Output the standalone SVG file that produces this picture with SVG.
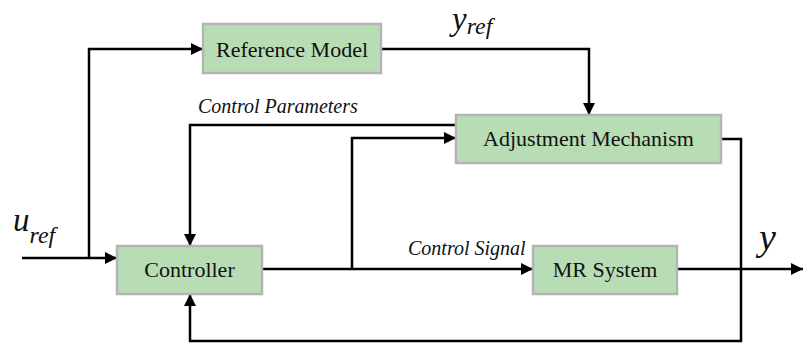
<svg xmlns="http://www.w3.org/2000/svg" width="803" height="345" viewBox="0 0 803 345">
  <defs>
    <marker id="arrow" viewBox="0 0 12 12" refX="12" refY="6" markerWidth="12" markerHeight="12" markerUnits="userSpaceOnUse" orient="auto">
      <path d="M0,0 L12,6 L0,12 Z" fill="#000"/>
    </marker>
  </defs>
  <style>
    .box { fill: #b8ddb4; stroke: #b4b4b4; stroke-width: 2.5; }
    text { font-family: "Liberation Serif", "Times New Roman", serif; fill: #111; }
    .lbl { font-size: 22px; text-anchor: middle; }
    .sig { font-style: italic; font-size: 20px; }
    .var { font-style: italic; }
    .wire { fill: none; stroke: #000; stroke-width: 2.5; }
    .arr { marker-end: url(#arrow); }
  </style>

  <rect width="803" height="345" fill="#fff"/>

  <!-- connectors -->
  <g id="connectors">
    <!-- reference input to controller -->
    <path class="wire arr" d="M22,258 H117"/>
    <!-- branch of reference input up to the reference model -->
    <path class="wire arr" d="M89,258 V49 H203"/>
    <!-- reference model output to adjustment mechanism -->
    <path class="wire arr" d="M381,49 H589 V115"/>
    <!-- control parameters back to controller -->
    <path class="wire arr" d="M456,125 H190 V246"/>
    <!-- controller output to MR system -->
    <path class="wire arr" d="M262,269 H533"/>
    <!-- control signal tap to adjustment mechanism -->
    <path class="wire arr" d="M352,269 V138 H456"/>
    <!-- plant output -->
    <path class="wire arr" d="M677,269 H803"/>
    <!-- output feedback to controller -->
    <path class="wire arr" d="M721,139 H741 V341 H190 V294"/>
  </g>

  <!-- nodes -->
  <g id="reference-model">
    <rect class="box" x="203" y="24" width="178" height="49"/>
    <text class="lbl" x="292" y="57">Reference Model</text>
  </g>
  <g id="adjustment-mechanism">
    <rect class="box" x="456" y="115" width="265" height="48"/>
    <text class="lbl" x="588.5" y="146">Adjustment Mechanism</text>
  </g>
  <g id="controller">
    <rect class="box" x="117" y="246" width="145" height="48"/>
    <text class="lbl" x="189.5" y="277">Controller</text>
  </g>
  <g id="mr-system">
    <rect class="box" x="533" y="246" width="144" height="48"/>
    <text class="lbl" x="605" y="277">MR System</text>
  </g>

  <!-- signal labels -->
  <g id="labels">
    <text class="sig" x="198" y="113">Control Parameters</text>
    <text class="sig" x="408" y="255">Control Signal</text>
    <text class="var" x="452" y="30" font-size="33">y<tspan font-size="24" dy="4">ref</tspan></text>
    <text class="var" x="13" y="231" font-size="33">u<tspan font-size="24" dy="12">ref</tspan></text>
    <text class="var" x="759" y="250" font-size="38">y</text>
  </g>
</svg>
